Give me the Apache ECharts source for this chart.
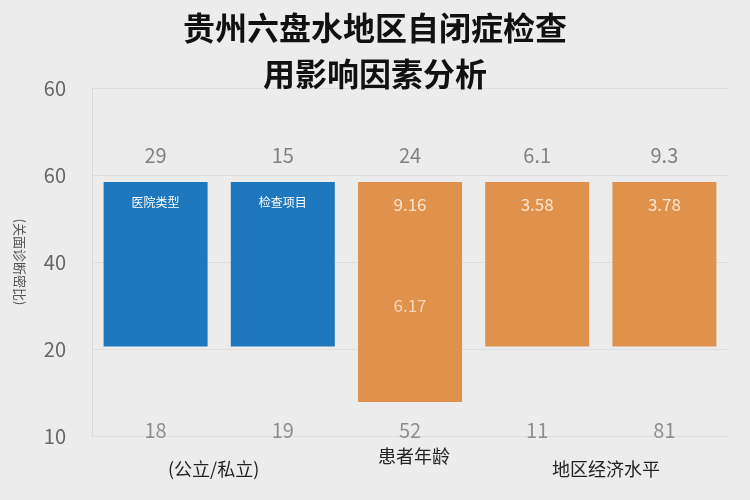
<!DOCTYPE html>
<html>
<head>
<meta charset="utf-8">
<script src="https://cdn.jsdelivr.net/npm/echarts@6/dist/echarts.min.js"></script>
<style>
html, body { margin: 0; padding: 0; background: #ececec; }
#chart { width: 750px; height: 500px; }
</style>
</head>
<body>
<div id="chart"></div>
<script>
var categories = ['医院类型', '检查项目', '患者年龄', '地区经济', '水平'];
var yTickLabels = ['10', '20', '40', '60', '60'];
var barBase = [1.03, 1.03, 0.39, 1.03, 1.03];
var barTop = [2.92, 2.92, 2.92, 2.92, 2.92];
var innerTop = ['医院类型', '检查项目', '9.16', '3.58', '3.78'];
var innerMid = ['', '', '6.17', '', ''];
var topNumbers = ['29', '15', '24', '6.1', '9.3'];
var bottomNumbers = ['18', '19', '52', '11', '81'];
var barColors = ['#1f78be', '#1f78be', '#e0914c', '#e0914c', '#e0914c'];

var chart = echarts.init(document.getElementById('chart'));

var font = '"Noto Sans CJK SC", "Noto Sans", sans-serif';

chart.setOption({
    backgroundColor: '#ececec',
    title: {
        text: '贵州六盘水地区自闭症检查\n用影响因素分析',
        left: 'center',
        top: 0,
        textStyle: { fontFamily: font, fontSize: 32, fontWeight: 'bold', color: '#111', lineHeight: 46 }
    },
    grid: { left: 92, right: 22, top: 88, bottom: 64 },
    xAxis: {
        type: 'category',
        data: categories,
        axisLine: { show: false },
        axisTick: { show: false },
        axisLabel: { show: false }
    },
    yAxis: {
        type: 'value',
        min: 0,
        max: 4,
        interval: 1,
        name: '(关面诊断密比)',
        nameLocation: 'middle',
        nameGap: 66,
        nameRotate: -90,
        nameTextStyle: { fontFamily: font, fontSize: 13, color: '#555' },
        axisLine: { show: true, lineStyle: { color: '#d8d8d8' } },
        axisLabel: {
            fontSize: 20, color: '#666', fontFamily: font, margin: 26,
            formatter: function (v) { return yTickLabels[v]; }
        },
        splitLine: { show: true, lineStyle: { color: '#dddddd' } }
    },
    series: [
        {
            type: 'bar', stack: 'b', barWidth: 104,
            itemStyle: { color: 'transparent' },
            data: barBase, silent: true
        },
        {
            type: 'bar', stack: 'b', barWidth: 104,
            data: barTop.map(function (t, i) {
                return { value: t - barBase[i], itemStyle: { color: barColors[i] } };
            }),
            label: {
                show: true, position: 'insideTop', distance: 14,
                color: '#fff', fontFamily: font,
                formatter: function (p) {
                    return p.dataIndex < 2 ? '{s|' + innerTop[p.dataIndex] + '}' : '{n|' + innerTop[p.dataIndex] + '}';
                },
                rich: {
                    s: { fontSize: 12, color: '#fff', fontFamily: font },
                    n: { fontSize: 17, color: '#fbe6d2', fontFamily: font }
                }
            }
        },
        {
            type: 'scatter', symbolSize: 0,
            data: innerMid.map(function (t, i) { return [i, 1.5]; }),
            label: {
                show: true, position: 'inside', color: '#fbe6d2', fontSize: 17, fontFamily: font,
                formatter: function (p) { return innerMid[p.dataIndex]; }
            }
        },
        {
            type: 'scatter', symbolSize: 0,
            data: topNumbers.map(function (t, i) { return [i, 3.22]; }),
            label: {
                show: true, position: 'inside', color: '#666', fontSize: 20, fontFamily: font,
                formatter: function (p) { return topNumbers[p.dataIndex]; }
            }
        },
        {
            type: 'scatter', symbolSize: 0,
            data: bottomNumbers.map(function (t, i) { return [i, 0.07]; }),
            label: {
                show: true, position: 'inside', color: '#777', fontSize: 20, fontFamily: font,
                formatter: function (p) { return bottomNumbers[p.dataIndex]; }
            }
        }
    ],
    graphic: [
        { type: 'text', left: 168, top: 460, style: { text: '(公立/私立)', fontSize: 18, fontFamily: font, fill: '#222' } },
        { type: 'text', left: 378, top: 447, style: { text: '患者年龄', fontSize: 18, fontFamily: font, fill: '#222' } },
        { type: 'text', left: 552, top: 460, style: { text: '地区经济水平', fontSize: 18, fontFamily: font, fill: '#222' } }
    ]
});
</script>
</body>
</html>
